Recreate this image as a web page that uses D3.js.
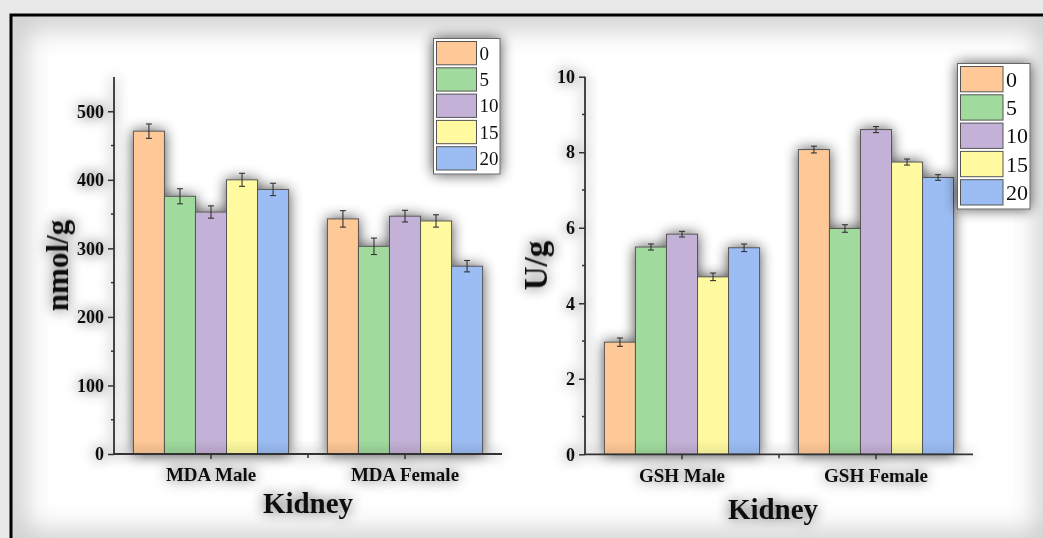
<!DOCTYPE html>
<html><head><meta charset="utf-8">
<script src="https://cdn.jsdelivr.net/npm/d3@7"></script>
<style>html,body{margin:0;padding:0;background:#e9e9e9;}svg{display:block;}</style>
</head><body>
<svg id="c" width="1043" height="538"></svg>
<script>
// ---- data ----
const seriesNames = ["0", "5", "10", "15", "20"];
const seriesColors = ["#FFC897", "#A0DA9D", "#C4B1D7", "#FFFA9F", "#9CBDF3"];
const mdaGroups = ["MDA Male", "MDA Female"];
const mdaMale = [471, 376, 353, 400, 386];
const mdaMaleErr = [10.5, 11, 9, 9.5, 9];
const mdaFemale = [343, 303, 347, 340, 274];
const mdaFemaleErr = [12, 12, 8.5, 9, 8.3];
const gshGroups = ["GSH Male", "GSH Female"];
const gshMale = [2.97, 5.49, 5.83, 4.70, 5.47];
const gshMaleErr = [0.11, 0.08, 0.075, 0.1, 0.1];
const gshFemale = [8.07, 5.98, 8.60, 7.74, 7.33];
const gshFemaleErr = [0.09, 0.1, 0.08, 0.08, 0.075];
const mdaTicks = [0, 100, 200, 300, 400, 500];
const mdaMinor = [50, 150, 250, 350, 450];
const gshTicks = [0, 2, 4, 6, 8, 10];
const gshMinor = [1, 3, 5, 7, 9];
const xTitle = "Kidney";

const svg = d3.select("#c");
const defs = svg.append("defs");
const f = defs.append("filter").attr("id","sh").attr("x","-40%").attr("y","-40%").attr("width","180%").attr("height","180%");
f.append("feGaussianBlur").attr("in","SourceAlpha").attr("stdDeviation",7).attr("result","b");
f.append("feComponentTransfer").attr("in","b").attr("result","c")
  .append("feFuncA").attr("type","linear").attr("slope",0.7);
const fm = f.append("feMerge");
fm.append("feMergeNode").attr("in","c");
fm.append("feMergeNode").attr("in","SourceGraphic");

const fi = defs.append("filter").attr("id","inner").attr("x","-10%").attr("y","-10%").attr("width","120%").attr("height","120%");
fi.append("feGaussianBlur").attr("stdDeviation",14);
defs.append("clipPath").attr("id","frameClip").append("rect").attr("x",11).attr("y",15).attr("width",1040).attr("height",530);

// frame
svg.append("rect").attr("x",11).attr("y",15).attr("width",1040).attr("height",530).attr("fill","#ffffff");
svg.append("g").attr("clip-path","url(#frameClip)")
  .append("rect").attr("x",11).attr("y",15).attr("width",1040).attr("height",530)
  .attr("fill","none").attr("stroke","#c4c4c4").attr("stroke-width",24).attr("filter","url(#inner)");
svg.append("rect").attr("x",11).attr("y",15).attr("width",1040).attr("height",530)
  .attr("fill","none").attr("stroke","#000").attr("stroke-width",3);

const serif = "'Liberation Serif','Times New Roman',serif";

function panel(opt){
  const g = svg.append("g");
  const x0 = d3.scaleBand().domain(opt.groups).range([opt.left, opt.right]).paddingInner(0.2).paddingOuter(0.1);
  const x1 = d3.scaleBand().domain(seriesNames).range([0, x0.bandwidth()]);
  const y = d3.scaleLinear().domain(opt.domain).range([opt.bottom, opt.top]);
  const rows = [opt.vals0.map((v,i)=>({g:opt.groups[0],s:seriesNames[i],v,e:opt.err0[i],c:seriesColors[i]})),
                opt.vals1.map((v,i)=>({g:opt.groups[1],s:seriesNames[i],v,e:opt.err1[i],c:seriesColors[i]}))].flat();
  const bars = g.append("g").attr("filter","url(#sh)");
  bars.selectAll("rect").data(rows).join("rect")
    .attr("x",d=>x0(d.g)+x1(d.s)).attr("width",x1.bandwidth())
    .attr("y",d=>y(d.v)).attr("height",d=>y(0)-y(d.v))
    .attr("fill",d=>d.c).attr("stroke","#555").attr("stroke-width",1);
  const eb = g.append("g").attr("stroke","#333").attr("stroke-width",1.1);
  rows.forEach(d=>{
    const cx = x0(d.g)+x1(d.s)+x1.bandwidth()/2;
    eb.append("line").attr("x1",cx).attr("x2",cx).attr("y1",y(d.v+d.e)).attr("y2",y(d.v-d.e));
    eb.append("line").attr("x1",cx-3).attr("x2",cx+3).attr("y1",y(d.v+d.e)).attr("y2",y(d.v+d.e));
    eb.append("line").attr("x1",cx-3).attr("x2",cx+3).attr("y1",y(d.v-d.e)).attr("y2",y(d.v-d.e));
  });
  // y axis
  const ya = g.append("g").attr("transform",`translate(${opt.left},0)`).attr("filter","url(#sh)")
    .call(d3.axisLeft(y).tickValues(opt.ticks).tickSize(6).tickPadding(4).tickFormat(d3.format("d")));
  ya.select(".domain").attr("stroke","#333").attr("stroke-width",1.8).attr("d",`M0,${opt.bottom}V${opt.top}`);
  ya.selectAll(".tick line").attr("stroke","#333").attr("stroke-width",1.5);
  ya.selectAll(".tick text").attr("font-family",serif).attr("font-weight","bold").attr("font-size",18).attr("fill","#111");
  ya.selectAll(".minor").data(opt.minor).join("line").attr("class","minor")
    .attr("x1",0).attr("x2",-3).attr("y1",d=>y(d)).attr("y2",d=>y(d)).attr("stroke","#333").attr("stroke-width",1.5);
  // x axis
  const xa = g.append("g").attr("transform",`translate(0,${opt.bottom})`).attr("filter","url(#sh)")
    .call(d3.axisBottom(x0).tickSize(5).tickPadding(9));
  xa.select(".domain").attr("stroke","#333").attr("stroke-width",1.8).attr("d",`M${opt.left},0H${opt.right}`);
  xa.selectAll(".tick line").attr("stroke","#333").attr("stroke-width",1.5);
  xa.selectAll(".tick text").attr("font-family",serif).attr("font-weight","bold").attr("font-size",19).attr("fill","#111");
  const sep = (x0(opt.groups[0])+x0.bandwidth()+x0(opt.groups[1]))/2;
  xa.append("line").attr("x1",sep).attr("x2",sep).attr("y1",0).attr("y2",4).attr("stroke","#333").attr("stroke-width",1.5);
  // titles
  g.append("text").attr("filter","url(#sh)")
    .attr("transform",`translate(${opt.ytx},${(opt.top+opt.bottom)/2}) rotate(-90)`)
    .attr("text-anchor","middle").attr("font-family",serif).attr("font-weight","bold")
    .attr("font-size",opt.ytSize).attr("fill","#111").text(opt.ytitle);
  g.append("text").attr("filter","url(#sh)")
    .attr("x",(opt.left+opt.right)/2+opt.xtdx).attr("y",opt.xty)
    .attr("text-anchor","middle").attr("font-family",serif).attr("font-weight","bold")
    .attr("font-size",29).attr("fill","#111").text(xTitle);
  // legend
  const L = opt.legend;
  const lg = g.append("g").attr("filter","url(#sh)");
  lg.append("rect").attr("x",L.x).attr("y",L.y).attr("width",L.w).attr("height",L.h)
    .attr("fill","#fff").attr("stroke","#666").attr("stroke-width",1);
  const pitch = (L.h-4)/seriesNames.length;
  seriesNames.forEach((s,i)=>{
    lg.append("rect").attr("x",L.x+3).attr("y",L.y+3+i*pitch).attr("width",L.sw).attr("height",pitch-3)
      .attr("fill",seriesColors[i]).attr("stroke","#555").attr("stroke-width",1);
    lg.append("text").attr("x",L.x+L.sw+6).attr("y",L.y+3+i*pitch+(pitch-3)/2)
      .attr("dy","0.35em").attr("font-family",serif).attr("font-size",L.fs).attr("fill","#111").text(s);
  });
}

panel({groups:mdaGroups, vals0:mdaMale, err0:mdaMaleErr, vals1:mdaFemale, err1:mdaFemaleErr,
  left:114, right:502, top:77, bottom:454, domain:[0,550], ticks:mdaTicks, minor:mdaMinor,
  ytitle:"nmol/g", ytx:68, ytSize:31, xty:513, xtdx:0,
  legend:{x:433.5, y:38.5, w:66.5, h:135.5, sw:40, fs:19}});
panel({groups:gshGroups, vals0:gshMale, err0:gshMaleErr, vals1:gshFemale, err1:gshFemaleErr,
  left:585, right:973, top:76.7, bottom:454.3, domain:[0,10], ticks:gshTicks, minor:gshMinor,
  ytitle:"U/g", ytx:547, ytSize:33, xty:519, xtdx:-6,
  legend:{x:957.5, y:63.5, w:72.5, h:145.5, sw:42.5, fs:22}});
</script>
</body></html>
